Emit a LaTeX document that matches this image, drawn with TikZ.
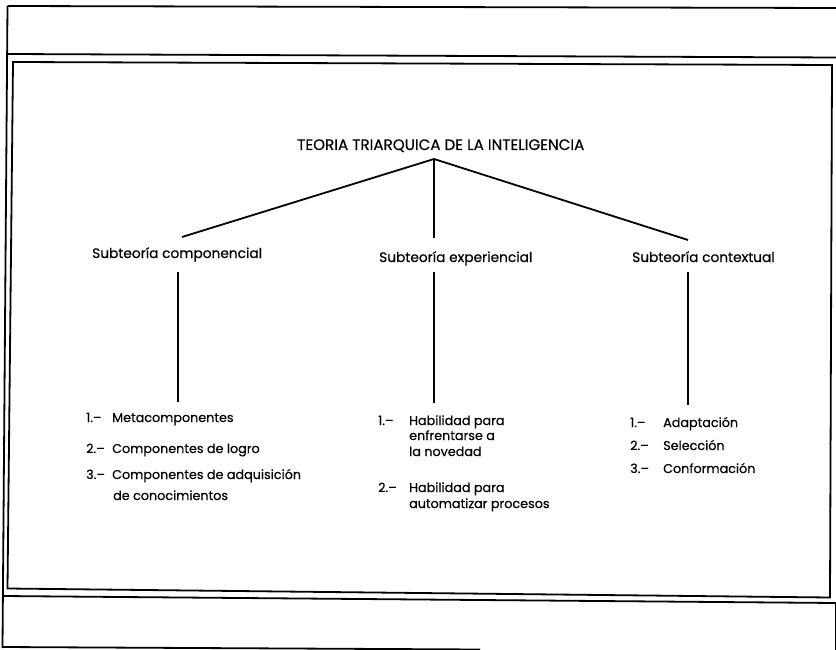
\documentclass[tikz,border=0pt]{standalone}
\usepackage{fontspec}
\setmainfont{Poppins}[UprightFeatures={FakeBold=0.5}]
\begin{document}
\begin{tikzpicture}[x=1bp,y=-1bp,
  frameline/.style={line width=1.8bp, black},
  link/.style={line width=1.8bp, black},
  txt/.style={inner sep=0pt, anchor=base west, font=\fontsize{13.8}{15}\selectfont},
  head/.style={txt, font=\fontsize{15.2}{16}\selectfont},
  item/.style={txt, font=\fontsize{12.8}{14}\selectfont}]
\useasboundingbox (0,0) rectangle (836,650);
% frames
\draw[frameline] (7.5,6) -- (836,8);
\draw[frameline] (7.5,6) -- (2.5,648);
\draw[frameline] (7.5,54) -- (836,57.5);
\draw[frameline] (13,62) -- (832,65) -- (830,597.5) -- (7.5,588.5) -- cycle;
\draw[frameline] (2.5,596) -- (836,603);
\draw[frameline] (835.5,603) -- (835.5,650);
\draw[frameline] (2.5,647) -- (480,649.5);
% title
\node[head] (title) at (297,150) {TEORIA TRIARQUICA DE LA INTELIGENCIA};
\coordinate (apex) at (434,159);
\coordinate (l1) at (182,237);
\coordinate (l2) at (434,238);
\coordinate (l3) at (688,240);
\draw[link] (l1) -- (apex) -- (l3);
\draw[link] (apex) -- (l2);
% level 2
\node[txt] (s1) at (92,258) {Subteoría componencial};
\node[txt] (s2) at (379,262) {Subteoría experiencial};
\node[txt] (s3) at (632,262) {Subteoría contextual};
\coordinate (v1a) at (178,272); \coordinate (v1b) at (178,402);
\coordinate (v2a) at (434,272); \coordinate (v2b) at (434,403);
\coordinate (v3a) at (688,272); \coordinate (v3b) at (688,405);
\draw[link] (v1a) -- (v1b);
\draw[link] (v2a) -- (v2b);
\draw[link] (v3a) -- (v3b);
% left list
\node[item] (a1n) at (86,422) {1.–};
\node[item] (a1) at (112,422) {Metacomponentes};
\node[item] (a2n) at (86,453) {2.–};
\node[item] (a2) at (112,453) {Componentes de logro};
\node[item] (a3n) at (86,479) {3.–};
\node[item] (a3) at (112,479) {Componentes de adquisición};
\node[item] (a4) at (113,500) {de conocimientos};
% middle list
\node[item] (b1n) at (378,425) {1.–};
\node[item] (b1) at (409,425) {Habilidad para};
\node[item] (b2) at (409,440) {enfrentarse a};
\node[item] (b3) at (409,456) {la novedad};
\node[item] (b4n) at (378,492) {2.–};
\node[item] (b4) at (409,492) {Habilidad para};
\node[item] (b5) at (409,508) {automatizar procesos};
% right list
\node[item] (c1n) at (630,427) {1.–};
\node[item] (c1) at (663,427) {Adaptación};
\node[item] (c2n) at (630,450) {2.–};
\node[item] (c2) at (663,450) {Selección};
\node[item] (c3n) at (630,473) {3.–};
\node[item] (c3) at (663,473) {Conformación};
\end{tikzpicture}
\end{document}
